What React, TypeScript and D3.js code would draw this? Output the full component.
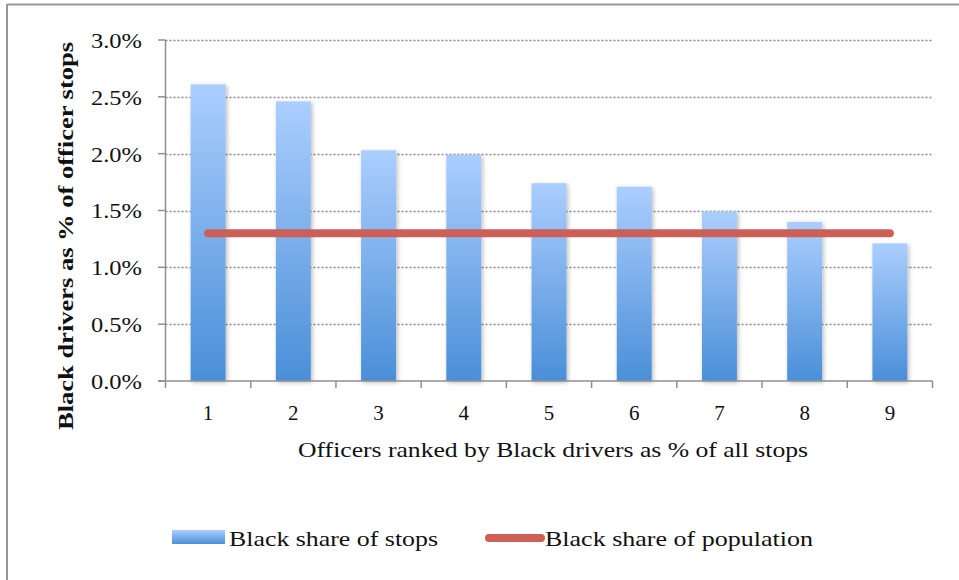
import React from "react";
import * as d3 from "d3";

const categories = ["1", "2", "3", "4", "5", "6", "7", "8", "9"];
const stopShare = [2.61, 2.46, 2.03, 1.99, 1.74, 1.71, 1.49, 1.40, 1.21];
const populationShare = [1.3, 1.3, 1.3, 1.3, 1.3, 1.3, 1.3, 1.3, 1.3];
const yTicks = [0, 0.5, 1.0, 1.5, 2.0, 2.5, 3.0];
const seriesNames = ["Black share of stops", "Black share of population"];
const xTitle = "Officers ranked by Black drivers as % of all stops";
const yTitle = "Black drivers as % of  officer stops";

const W = 959;
const H = 580;
const FONT = "'Liberation Serif', 'DejaVu Serif', serif";

export default function App() {
  const left = 165.5;
  const right = 932.5;
  const top = 40;
  const bottom = 381;

  const x = d3.scaleBand<string>().domain(categories).range([left, right]).paddingInner(0.59).paddingOuter(0.295);
  const xb = d3.scaleBand<string>().domain(categories).range([left, right]).padding(0);
  const y = d3.scaleLinear().domain([0, 3]).range([bottom, top]);

  const line = d3
    .line<number>()
    .x((_, i) => (xb(categories[i]) as number) + xb.bandwidth() / 2)
    .y((d) => y(d));

  const boundaries = categories.map((c) => xb(c) as number).concat([right]);

  return (
    <svg width={W} height={H} style={{ position: "absolute", left: 0, top: 0, background: "#fff" }}>
      <defs>
        <linearGradient id="barGrad" x1="0" y1="0" x2="0" y2="1">
          <stop offset="0%" stopColor="#abcefe" />
          <stop offset="100%" stopColor="#4a8fd8" />
        </linearGradient>
        <linearGradient id="legGrad" x1="0" y1="0" x2="0" y2="1">
          <stop offset="0%" stopColor="#abcefe" />
          <stop offset="100%" stopColor="#4a8fd8" />
        </linearGradient>
        <filter id="shadow" x="-30%" y="-10%" width="160%" height="120%">
          <feDropShadow dx="1.5" dy="1.5" stdDeviation="2" floodColor="#000" floodOpacity="0.28" />
        </filter>
      </defs>
      <rect x={0} y={0} width={W} height={H} fill="#fff" />
      {/* frame */}
      <line x1={7} x2={W + 5} y1={4.5} y2={4.5} stroke="#979797" strokeWidth={2} />
      <line x1={7} x2={7} y1={4} y2={H + 5} stroke="#979797" strokeWidth={2} />

      {/* gridlines */}
      {yTicks
        .filter((t) => t > 0)
        .map((t) => (
          <line
            key={"g" + t}
            x1={left}
            x2={right}
            y1={Math.round(y(t)) + 0.5}
            y2={Math.round(y(t)) + 0.5}
            stroke="#8a8a8a"
            strokeWidth={1.3}
            strokeDasharray="2,2"
          />
        ))}

      {/* bars */}
      {stopShare.map((v, i) => (
        <rect
          key={"b" + i}
          x={x(categories[i])}
          y={y(v)}
          width={x.bandwidth()}
          height={y(0) - y(v)}
          fill="url(#barGrad)"
          filter="url(#shadow)"
        />
      ))}

      {/* axes */}
      <line x1={left} x2={left} y1={top} y2={bottom} stroke="#8f8f8f" strokeWidth={1.5} />
      <line x1={158} x2={right} y1={bottom} y2={bottom} stroke="#8f8f8f" strokeWidth={1.5} />
      {yTicks.map((t) => (
        <g key={"yt" + t}>
          <line x1={158} x2={left} y1={y(t)} y2={y(t)} stroke="#8f8f8f" strokeWidth={1.5} />
          <text
            x={142}
            y={y(t)}
            dy="0.36em"
            textAnchor="end"
            fontFamily={FONT}
            fontSize={22}
            fill="#111"
            textLength={51}
            lengthAdjust="spacingAndGlyphs"
          >
            {t.toFixed(1) + "%"}
          </text>
        </g>
      ))}
      {boundaries.map((bx, i) => (
        <line key={"xt" + i} x1={bx} x2={bx} y1={bottom} y2={bottom + 7} stroke="#8f8f8f" strokeWidth={1.5} />
      ))}
      {categories.map((c) => (
        <text
          key={"xl" + c}
          x={(xb(c) as number) + xb.bandwidth() / 2}
          y={420}
          textAnchor="middle"
          fontFamily={FONT}
          fontSize={21}
          fill="#111"
        >
          {c}
        </text>
      ))}

      {/* population line */}
      <path
        d={line(populationShare) || ""}
        fill="none"
        stroke="#cc5f57"
        strokeWidth={8}
        strokeLinecap="round"
      />

      {/* axis titles */}
      <text
        x={553}
        y={457}
        textAnchor="middle"
        fontFamily={FONT}
        fontSize={21}
        fill="#111"
        textLength={510}
        lengthAdjust="spacingAndGlyphs"
      >
        {xTitle}
      </text>
      <text
        transform={`translate(73, 236) rotate(-90)`}
        textAnchor="middle"
        fontFamily={FONT}
        fontSize={21}
        fontWeight="bold"
        fill="#111"
        textLength={388}
        lengthAdjust="spacingAndGlyphs"
      >
        {yTitle}
      </text>

      {/* legend */}
      <rect x={172} y={530} width={53} height={14} fill="url(#legGrad)" />
      <text x={229} y={546} fontFamily={FONT} fontSize={21} fill="#111" textLength={209} lengthAdjust="spacingAndGlyphs">
        {seriesNames[0]}
      </text>
      <line x1={489} x2={541} y1={538} y2={538} stroke="#cc5f57" strokeWidth={8} strokeLinecap="round" />
      <text x={545} y={546} fontFamily={FONT} fontSize={21} fill="#111" textLength={268} lengthAdjust="spacingAndGlyphs">
        {seriesNames[1]}
      </text>
    </svg>
  );
}
